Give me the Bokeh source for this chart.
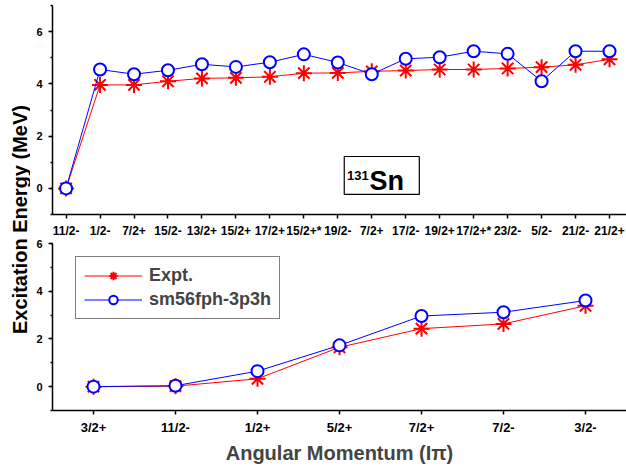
import math
from bokeh.plotting import figure
from bokeh.models import (Range1d, SingleIntervalTicker, FixedTicker, Legend, LegendItem,
                          BoxAnnotation, Label, LinearAxis, AllLabels)
from bokeh.layouts import row, column
from bokeh.embed import file_html
from bokeh.resources import INLINE

# ---------------- data ----------------
top_labels = ["11/2-", "1/2-", "7/2+", "15/2-", "13/2+", "15/2+", "17/2+", "15/2+*", "19/2-",
              "7/2+", "17/2-", "19/2+", "17/2+*", "23/2-", "5/2-", "21/2-", "21/2+"]
top_expt = [0.0, 3.96, 3.96, 4.10, 4.21, 4.23, 4.27, 4.41, 4.42, 4.48, 4.51, 4.55, 4.55,
            4.59, 4.64, 4.73, 4.94]
top_calc = [0.0, 4.55, 4.37, 4.52, 4.75, 4.65, 4.83, 5.13, 4.82, 4.37, 4.96, 5.02, 5.25,
            5.15, 4.10, 5.25, 5.25]

bot_labels = ["3/2+", "11/2-", "1/2+", "5/2+", "7/2+", "7/2-", "3/2-"]
bot_expt = [0.0, 0.02, 0.33, 1.65, 2.43, 2.63, 3.39]
bot_calc = [0.0, 0.04, 0.65, 1.73, 2.96, 3.12, 3.61]

series_names = ["Expt.", "sm56fph-3p3h"]
nucleus_mass = "131"
nucleus_symbol = "Sn"
y_title = "Excitation Energy (MeV)"
x_title = "Angular Momentum (I\u03c0)"

FONT = "Liberation Sans"
RED = "#ff0000"
BLUE = "#0000ff"


def style_axes(p):
    p.outline_line_color = None
    p.xgrid.visible = False
    p.ygrid.visible = False
    p.background_fill_color = "white"
    p.border_fill_color = "white"
    for ax in p.axis:
        ax.axis_line_color = "black"
        ax.axis_line_width = 1.5
        ax.major_tick_line_color = "black"
        ax.major_tick_line_width = 1.5
        ax.major_tick_in = 0
        ax.major_tick_out = 4
        ax.minor_tick_line_color = "black"
        ax.minor_tick_line_width = 1.5
        ax.minor_tick_in = 0
        ax.minor_tick_out = 2
        ax.major_label_text_font = FONT
        ax.major_label_text_font_style = "bold"
        ax.major_label_text_color = "black"
        ax.major_label_policy = AllLabels()


def draw_series(p, xs, expt, calc):
    rl = p.line(xs, expt, line_color=RED, line_width=1)
    rm = p.scatter(xs, expt, marker="asterisk", size=16, line_color=RED, line_width=2)
    bl = p.line(xs, calc, line_color=BLUE, line_width=1)
    bm = p.scatter(xs, calc, marker="circle", size=12, line_color=BLUE, line_width=2,
                   fill_color="white")
    return (rl, rm), (bl, bm)


# ---------------- y title strip ----------------
lab = figure(width=30, height=466, x_range=Range1d(0, 30), y_range=Range1d(0, 466),
             min_border=0, toolbar_location=None, output_backend="svg")
lab.axis.visible = False
lab.grid.visible = False
lab.outline_line_color = None
lab.add_layout(Label(x=19, y=247, text=y_title, angle=math.pi / 2, text_align="center",
                     text_baseline="middle", text_font=FONT, text_font_style="bold",
                     text_font_size="20px", text_color="black"))

# ---------------- top panel ----------------
xt = list(range(len(top_labels)))
p1 = figure(width=596, height=220, x_range=Range1d(-0.4, 16.5), y_range=Range1d(-1, 7),
            min_border_left=22, min_border_right=0, min_border_top=5, min_border_bottom=6,
            toolbar_location=None, output_backend="svg")
draw_series(p1, xt, top_expt, top_calc)
style_axes(p1)
p1.yaxis.ticker = SingleIntervalTicker(interval=2, num_minor_ticks=2)
p1.yaxis.major_label_text_font_size = "11px"
p1.yaxis.major_label_standoff = 6
# tick marks only here; the category names are drawn by the axis just below
p1.xaxis.ticker = FixedTicker(ticks=xt)
p1.xaxis.major_label_text_font_size = "1px"
p1.xaxis.major_label_text_color = None
p1.xaxis.major_label_standoff = 0
p1.xaxis.minor_tick_line_color = None

p1.add_layout(BoxAnnotation(left=8.19, right=10.40, bottom=-0.23, top=1.22,
                            fill_color="white", fill_alpha=1, line_color="black",
                            line_alpha=1, line_width=1.2))
p1.add_layout(Label(x=8.27, y=0.50, text=nucleus_mass, text_font=FONT,
                    text_font_style="bold", text_font_size="13px", text_color="black",
                    text_baseline="alphabetic"))
p1.add_layout(Label(x=8.93, y=0.29, text=nucleus_symbol, text_font=FONT,
                    text_font_style="bold", text_font_size="27px", text_color="black",
                    text_baseline="alphabetic"))

# ---------------- bottom panel ----------------
xb = list(range(len(bot_labels)))
p2 = figure(width=596, height=246, x_range=Range1d(-0.5, 6.5), y_range=Range1d(-1, 6),
            min_border_left=22, min_border_right=0, min_border_top=17, min_border_bottom=54,
            toolbar_location=None, output_backend="svg")
p2.extra_x_ranges = {"top": Range1d(-0.4, 16.5)}
(rl, rm), (bl, bm) = draw_series(p2, xb, bot_expt, bot_calc)

top_lab_axis = LinearAxis(x_range_name="top", ticker=FixedTicker(ticks=xt),
                          major_label_overrides={i: s for i, s in enumerate(top_labels)})
p2.add_layout(top_lab_axis, "above")
style_axes(p2)
top_lab_axis.axis_line_color = None
top_lab_axis.major_tick_line_color = None
top_lab_axis.minor_tick_line_color = None
top_lab_axis.major_label_text_font_size = "12px"
top_lab_axis.major_label_standoff = 2

p2.yaxis.ticker = SingleIntervalTicker(interval=2, num_minor_ticks=2)
p2.yaxis.major_label_text_font_size = "11px"
p2.yaxis.major_label_standoff = 6
bottom_axis = p2.below[0]
bottom_axis.ticker = FixedTicker(ticks=xb)
bottom_axis.major_label_overrides = {i: s for i, s in enumerate(bot_labels)}
bottom_axis.major_label_text_font_size = "13px"
bottom_axis.major_label_standoff = 5
bottom_axis.minor_tick_line_color = None
bottom_axis.axis_label = x_title
bottom_axis.axis_label_text_font = FONT
bottom_axis.axis_label_text_font_style = "bold"
bottom_axis.axis_label_text_font_size = "20px"
bottom_axis.axis_label_standoff = 4

legend = Legend(items=[LegendItem(label=series_names[0], renderers=[rl, rm]),
                       LegendItem(label=series_names[1], renderers=[bl, bm])],
                location=(23, 91), glyph_width=58, glyph_height=21, label_height=21,
                label_standoff=7, padding=8, spacing=3, margin=0,
                label_text_font=FONT, label_text_font_style="bold",
                label_text_font_size="18px", border_line_color="black",
                border_line_width=1.2, background_fill_alpha=1)
p2.add_layout(legend)

layout = row(lab, column(p1, p2))
open("out.html", "w").write(file_html(layout, INLINE))
